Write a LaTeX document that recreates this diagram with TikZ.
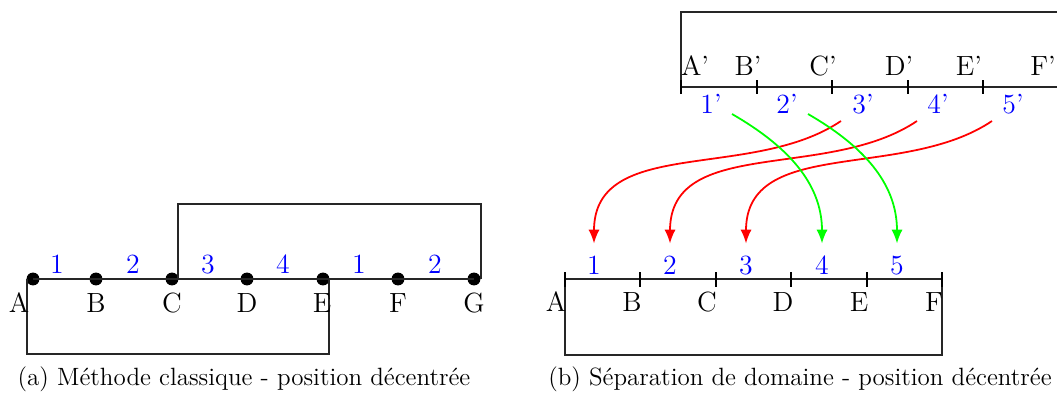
\documentclass[tikz,border=0pt]{standalone}
\usetikzlibrary{arrows.meta}
\begin{document}
\begin{tikzpicture}[x=0.45pt,y=-0.45pt,
  lbl/.style={anchor=base,inner sep=0pt,font=\fontsize{12.5}{15}\selectfont},
  num/.style={lbl,text=blue},
  captext/.style={anchor=base,inner sep=0pt,font=\fontsize{11.25}{14}\selectfont},
  frame/.style={draw=black!85,line width=0.5pt},
  tickline/.style={draw=black,line width=0.65pt},
  ptdot/.style={circle,fill=black,inner sep=0pt,minimum size=5.8pt},
  redarr/.style={draw=red,line width=0.8pt,-{Latex[length=6.2pt,width=5pt]}},
  grnarr/.style={draw=green,line width=0.8pt,-{Latex[length=6.2pt,width=5pt]}}]
\clip (0,0) rectangle (1057,392);
% ---------------- (a) ----------------
\foreach \n/\x in {A/33,B/96,C/172,D/247,E/323,F/398,G/474}
  \node[ptdot] (p\n) at (\x,279) {};
\draw[frame] (pA.center) -- (pG.center);
\draw[frame] (27,279) -- (27,354) -- (329,354) -- (329,279);
\draw[frame] (178,279) -- (178,204) -- (481,204) -- (481,279);
\foreach \n/\x in {A/19,B/96,C/172,D/247,E/322,F/398,G/474}
  \node[lbl] (l\n) at (\x,312) {\n};
\foreach \t/\x [count=\i] in {1/57,2/133,3/208,4/283,1/359,2/435}
  \node[num] (na\i) at (\x,273) {\t};
\node[captext] (capa) at (244,385.5) {(a) M\'ethode classique - position d\'ecentr\'ee};
% ---------------- (b) top ----------------
\draw[frame] (681,94) -- (681,12) -- (1070,12) -- (1070,87);
\draw[frame] (681,87) -- (1070,87);
\foreach \x in {757,832,908,983}
  \draw[tickline] (\x,80) -- (\x,94);
\draw[tickline] (681,80) -- (681,94);
\foreach \t/\x [count=\i] in {A'/695,B'/748,C'/823,D'/899,E'/969,F'/1043}
  \node[lbl] (tl\i) at (\x,75) {\t};
\foreach \t/\x [count=\i] in {1'/711,2'/787,3'/863,4'/938,5'/1013}
  \node[num] (tp\i) at (\x,113) {\t};
% ---------------- (b) bottom ----------------
\draw[frame] (565,279) -- (942,279);
\draw[frame] (565,279) -- (565,355) -- (942,355) -- (942,279);
\foreach \x in {565,640,716,791,867,942}
  \draw[tickline] (\x,272) -- (\x,287);
\foreach \t/\x in {A/556,B/632,C/707,D/783,E/859,F/934}
  \node[lbl] (b\t) at (\x,311.5) {\t};
\foreach \t/\x in {1/594,2/670,3/746,4/822,5/897}
  \node[num] (bn\t) at (\x,274) {\t};
\node[captext] (capb) at (800,385.5) {(b) S\'eparation de domaine - position d\'ecentr\'ee};
% ---------------- arrows ----------------
\coordinate (s3) at (841,121);  \coordinate (e1) at (594,243.5);
\coordinate (s4) at (917,121);  \coordinate (e2) at (670,243.5);
\coordinate (s5) at (992,121);  \coordinate (e3) at (746,243.5);
\coordinate (s1) at (732,114);  \coordinate (e4) at (822,243.5);
\coordinate (s2) at (808,114);  \coordinate (e5) at (897,243.5);
\draw[redarr] (s3) to[out=214,in=90] (e1);
\draw[redarr] (s4) to[out=214,in=90] (e2);
\draw[redarr] (s5) to[out=214,in=90] (e3);
\draw[grnarr] (s1) to[out=-30,in=90] (e4);
\draw[grnarr] (s2) to[out=-30,in=90] (e5);
\end{tikzpicture}
\end{document}
